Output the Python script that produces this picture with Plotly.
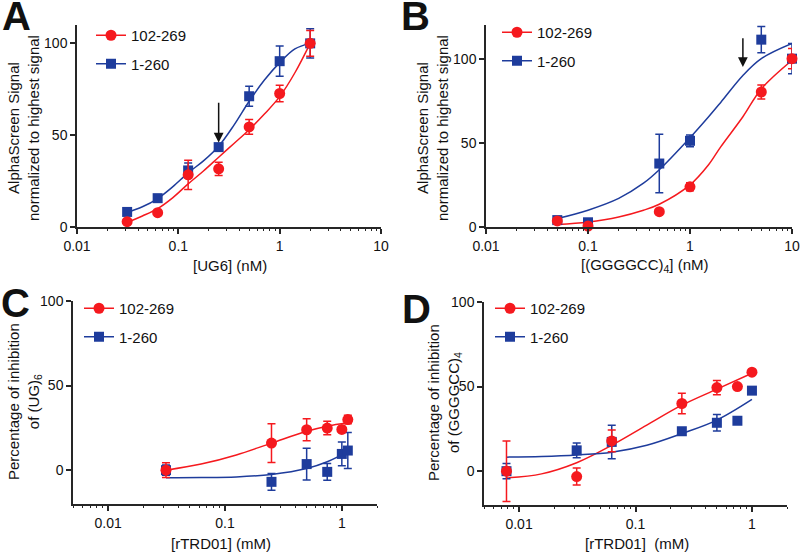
import plotly.graph_objects as go
import math

# ---------------- data ----------------
RED = "#F5191E"
BLUE = "#1E3C9C"
AXC = "#262626"

# Panel A
a_x = [0.03125, 0.0625, 0.125, 0.25, 0.5, 1, 2]
a_red = [2.9, 7.8, 28.4, 31.7, 54.5, 72.7, 100]
a_red_err = [0, 0, 8, 3.6, 4, 4.5, 7]
a_blue = [8.2, 15.7, 30.8, 43.5, 71.2, 90.3, 100]
a_blue_err = [0, 0, 4, 0, 5.5, 8.2, 8]
a_fit_x = [0.03125, 0.0442, 0.0625, 0.0884, 0.125, 0.177, 0.25, 0.354, 0.5, 0.707, 1, 1.414, 2]
a_fit_red = [2.5, 6, 10, 16, 23.5, 30.5, 38, 45.5, 53, 61.5, 71, 84, 100]
a_fit_blue = [8, 11, 15.5, 22, 29.5, 36, 44, 55.5, 68.5, 80, 89.5, 97, 100]
a_arrow = [0.25, 68.5, 46]  # x, tail y, tip y

# Panel B
b_x = [0.05, 0.1, 0.5, 1, 5, 10]
b_red = [3.6, 0.6, 9.1, 23.9, 80.2, 100]
b_red_err = [0, 0, 0, 2.4, 4.1, 6]
b_blue = [4.1, 2.8, 37.7, 51.2, 111.3, 100]
b_blue_err = [0, 0, 17.4, 3.5, 7.8, 9]
b_fit_x = [0.05, 0.1, 0.2, 0.35, 0.5, 1, 1.5, 2, 3.3, 5, 10]
b_fit_red = [1.5, 3, 6, 10, 13.5, 25, 36.5, 47.6, 65.5, 82, 99]
b_fit_blue = [5, 10, 17, 26, 34, 53, 65, 74, 90, 100, 109]
b_arrow = [3.3, 113, 95]

# Panel C
c_x = [0.03125, 0.25, 0.5, 0.75, 1, 1.125]
c_red = [0, 16, 23.9, 24.9, 24.1, 29.9]
c_red_err = [4.4, 11.4, 6.5, 4, 0, 2.5]
c_blue = [0, -6.9, 3.6, -1, 9.6, 11.6]
c_blue_err = [3, 5, 9.4, 5, 7, 10.6]
c_fit_x = [0.03125, 0.0625, 0.125, 0.25, 0.5, 0.75, 1.125]
c_fit_red = [0, 3.6, 9, 16, 23, 26, 28]
c_fit_blue = [-4.5, -4.4, -4, -2.5, 1, 5, 11]

# Panel D
d_x = [0.0078, 0.03125, 0.0625, 0.25, 0.5, 0.75, 1]
d_red = [0, -3.2, 17.9, 40, 49.4, 50, 58.5]
d_red_err = [17.9, 5, 6.4, 6, 4.2, 0, 0]
d_blue = [0, 12.3, 17.3, 23.6, 28.6, 29.8, 47.6]
d_blue_err = [4.5, 4.3, 9.9, 0, 4.9, 0, 0]
d_fit_x = [0.0078, 0.0156, 0.03125, 0.0625, 0.125, 0.25, 0.5, 1]
d_fit_red = [-4, -1.6, 5, 15.3, 27.2, 39, 48.5, 57.9]
d_fit_blue = [8.3, 8.7, 9.6, 11.2, 15.3, 22.2, 30.2, 42.4]

series_names = ["102-269", "1-260"]

# ---------------- layout helpers ----------------
W, H = 800, 552
FONT = "Liberation Sans, Arial, sans-serif"

def px_x(p):
    return p / W

def px_y(p):
    return 1 - p / H

panels = {
    "A": dict(dom=(77, 381, 25, 227), xr=[-2, 1], yr=[0, 110], xt=[0.01, 0.1, 1, 10]),
    "B": dict(dom=(486, 792, 25, 227), xr=[-2, 1], yr=[0, 120], xt=[0.01, 0.1, 1, 10]),
    "C": dict(dom=(73, 377, 301, 504), xr=[math.log10(0.005), math.log10(2)], yr=[-20, 100], xt=[0.01, 0.1, 1]),
    "D": dict(dom=(484, 787, 302, 505), xr=[math.log10(0.005), math.log10(2)], yr=[-20, 100], xt=[0.01, 0.1, 1]),
}

fig = go.Figure()
layout = dict(width=W, height=H, margin=dict(l=0, r=0, t=0, b=0, autoexpand=False),
              paper_bgcolor="white", plot_bgcolor="white",
              font=dict(family=FONT, color="#111"), annotations=[], showlegend=True)

data_sets = {
    "A": (a_x, a_red, a_red_err, a_blue, a_blue_err, a_fit_x, a_fit_red, a_fit_blue),
    "B": (b_x, b_red, b_red_err, b_blue, b_blue_err, b_fit_x, b_fit_red, b_fit_blue),
    "C": (c_x, c_red, c_red_err, c_blue, c_blue_err, c_fit_x, c_fit_red, c_fit_blue),
    "D": (d_x, d_red, d_red_err, d_blue, d_blue_err, d_fit_x, d_fit_red, d_fit_blue),
}

legend_pos = {"A": (91, 19), "B": (497, 16), "C": (79, 292), "D": (490, 292)}

for i, (name, p) in enumerate(panels.items()):
    n = "" if i == 0 else str(i + 1)
    xa, ya = "x" + n, "y" + n
    lg = "legend" + n
    x0, x1, yt, yb = p["dom"]
    layout["xaxis" + n] = dict(
        type="log", range=p["xr"], domain=[px_x(x0), px_x(x1)], anchor=ya, automargin=False,
        showline=True, linecolor=AXC, linewidth=1.5, ticks="outside", ticklen=5,
        tickwidth=1.5, tickcolor=AXC, showgrid=False, zeroline=False,
        tickvals=p["xt"], ticktext=[str(v) for v in p["xt"]],
        tickfont=dict(size=14, family=FONT, color="#111"),
        minor=dict(ticks="outside", ticklen=2.5, tickwidth=1, tickcolor=AXC, dtick="D1", showgrid=False),
    )
    layout["yaxis" + n] = dict(
        range=p["yr"], domain=[px_y(yb), px_y(yt)], anchor=xa, automargin=False,
        showline=True, linecolor=AXC, linewidth=1.5, ticks="outside", ticklen=5,
        tickwidth=1.5, tickcolor=AXC, showgrid=False, zeroline=False,
        tickvals=[0, 50, 100], tickfont=dict(size=14, family=FONT, color="#111"),
    )
    lx, ly = legend_pos[name]
    layout[lg] = dict(x=px_x(lx), y=px_y(ly), xanchor="left", yanchor="top",
                      bgcolor="rgba(0,0,0,0)", font=dict(size=15, family=FONT, color="#111"),
                      tracegroupgap=6, itemwidth=30)

    xs, r, re, b, be, fx, fr, fb = data_sets[name]
    for fy, col in ((fr, RED), (fb, BLUE)):
        fig.add_trace(go.Scatter(x=fx, y=fy, mode="lines", line=dict(color=col, width=1.5, shape="spline", smoothing=1.0),
                                 xaxis=xa, yaxis=ya, showlegend=False, hoverinfo="skip", cliponaxis=False))
    fig.add_trace(go.Scatter(x=xs, y=b, mode="markers", marker=dict(symbol="square", size=10, color=BLUE),
                             error_y=dict(type="data", array=be, color=BLUE, thickness=1.5, width=4),
                             xaxis=xa, yaxis=ya, showlegend=False, cliponaxis=False))
    fig.add_trace(go.Scatter(x=xs, y=r, mode="markers", marker=dict(symbol="circle", size=11, color=RED),
                             error_y=dict(type="data", array=re, color=RED, thickness=1.5, width=4),
                             xaxis=xa, yaxis=ya, showlegend=False, cliponaxis=False))
    for nm, col, sym, sz, grp in ((series_names[0], RED, "circle", 11, "r"), (series_names[1], BLUE, "square", 10, "b")):
        fig.add_trace(go.Scatter(x=[None], y=[None], mode="lines+markers", name=nm,
                                 marker=dict(symbol=sym, size=sz, color=col), line=dict(color=col, width=1.5),
                                 xaxis=xa, yaxis=ya, legend=lg, legendgroup=name + grp, showlegend=True))

# arrows
for n, arr in (("", a_arrow), ("2", b_arrow)):
    layout["annotations"].append(dict(
        x=math.log10(arr[0]), y=arr[2], ax=math.log10(arr[0]), ay=arr[1],
        xref="x" + n, yref="y" + n, axref="x" + n, ayref="y" + n,
        showarrow=True, arrowhead=2, arrowsize=1.3, arrowwidth=1.5, arrowcolor="#111", text=""))

# panel letters
for lt, cx, cy in (("A", 16, 16), ("B", 415, 16), ("C", 15, 303), ("D", 416, 309)):
    layout["annotations"].append(dict(text="<b>%s</b>" % lt, x=px_x(cx), y=px_y(cy), xref="paper", yref="paper",
                                      xanchor="center", yanchor="middle", showarrow=False,
                                      font=dict(size=40, family=FONT, color="#111")))

titles = [
    ("AlphaScreen Signal<br>normalized to highest signal", 23, 128, -90),
    ("AlphaScreen Signal<br>normalized to highest signal", 432, 128, -90),
    ("Percentage of inhibition<br>of (UG)<sub>6</sub>", 24, 402, -90),
    ("Percentage of inhibition<br>of (GGGGCC)<sub>4</sub>", 444, 403, -90),
    ("[UG6] (nM)", 230, 265, 0),
    ("[(GGGGCC)<sub>4</sub>] (nM)", 645, 265, 0),
    ("[rTRD01] (mM)", 221, 543, 0),
    ("[rTRD01]&nbsp; (mM)", 637, 543, 0),
]
for t, cx, cy, ang in titles:
    layout["annotations"].append(dict(text=t, x=px_x(cx), y=px_y(cy), xref="paper", yref="paper",
                                      xanchor="center", yanchor="middle", showarrow=False, textangle=ang,
                                      font=dict(size=15, family=FONT, color="#111")))

fig.update_layout(**layout)
fig.write_html("out.html", config={"displayModeBar": False},
               post_script="document.body.style.margin='0px';document.body.style.padding='0px';")
